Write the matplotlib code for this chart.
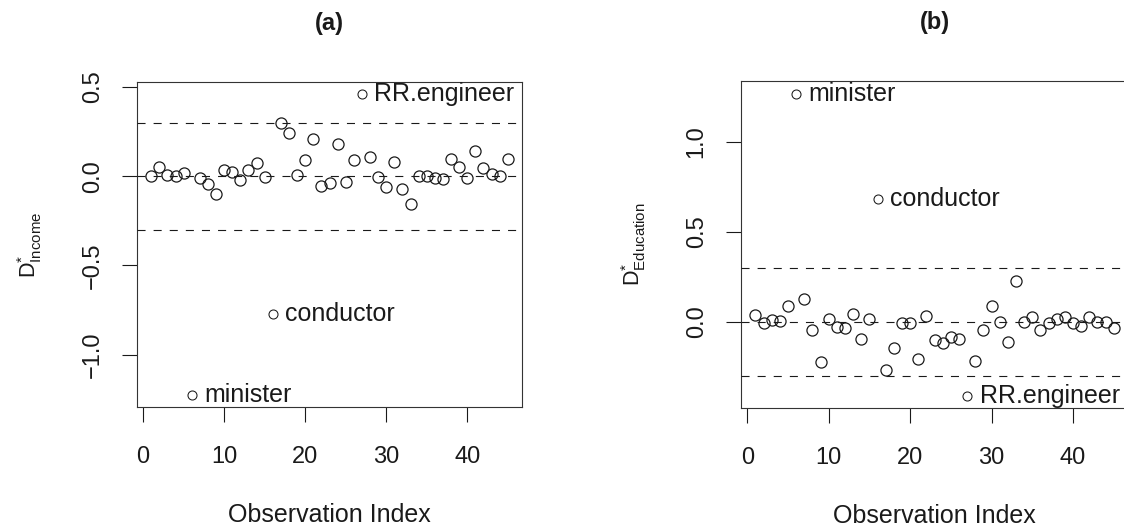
import numpy as np
import matplotlib
matplotlib.use('Agg')
import matplotlib.pyplot as plt

plt.rcParams['font.family'] = ['Liberation Sans', 'DejaVu Sans']
plt.rcParams['mathtext.fontset'] = 'custom'
plt.rcParams['mathtext.rm'] = 'Liberation Sans'
plt.rcParams['mathtext.it'] = 'Liberation Sans'
plt.rcParams['lines.scale_dashes'] = False

# standardized DFBETA values for the Duncan occupations, by observation index
obs = np.arange(1, 46)
d_income = [
    0.000, 0.050, 0.008, 0.000, 0.017, -1.225, -0.011, -0.043, -0.100, 0.032,
    0.022, -0.020, 0.036, 0.075, -0.005, -0.769, 0.300, 0.240, 0.008, 0.088,
    0.210, -0.057, -0.037, 0.180, -0.030, 0.088, 0.460, 0.110, -0.005, -0.061,
    0.082, -0.070, -0.158, 0.000, 0.000, -0.009, -0.015, 0.095, 0.054, -0.009,
    0.140, 0.045, 0.013, 0.000, 0.095,
]
d_education = [
    0.037, -0.009, 0.009, 0.003, 0.087, 1.269, 0.124, -0.046, -0.222, 0.015,
    -0.031, -0.033, 0.045, -0.098, 0.015, 0.680, -0.267, -0.148, -0.009, -0.009,
    -0.207, 0.032, -0.102, -0.117, -0.083, -0.098, -0.411, -0.217, -0.046, 0.087,
    0.000, -0.115, 0.226, 0.000, 0.024, -0.046, -0.006, 0.017, 0.024, -0.009,
    -0.022, 0.024, 0.000, 0.000, -0.033,
]
flagged = {6: 'minister', 16: 'conductor', 27: 'RR.engineer'}
cutoff = 0.3

FS = 17
INK = '#1a1a1a'


def r_range(v):
    # R-style 4% padding around the data range
    lo, hi = min(v), max(v)
    pad = 0.04 * (hi - lo)
    return lo - pad, hi + pad


def dfbeta_panel(ax, vals, yticks, ylab, title):
    vals = np.asarray(vals)
    keep = np.array([i not in flagged for i in obs])
    ax.plot(obs[keep], vals[keep], 'o', ms=8.0, mfc='none', mec=INK, mew=0.9, zorder=2)

    for i, name in flagged.items():
        ax.plot(i, vals[i - 1], 'o', ms=6.5, mfc='none', mec=INK, mew=0.75, zorder=2)
        ax.annotate(name, (i, vals[i - 1]), xytext=(9, 0), textcoords='offset points',
                    ha='left', va='center', fontsize=18, color=INK)

    for h in (-cutoff, 0, cutoff):
        ax.axhline(h, color=INK, lw=0.8, dashes=(5.8, 5.8), zorder=3)

    ax.set_xlim(r_range(obs))
    ax.set_ylim(r_range(vals))
    ax.set_xticks([0, 10, 20, 30, 40])
    ax.set_yticks(yticks)
    ax.set_yticklabels([f'{t:.1f}'.replace('-', '\u2212') for t in yticks],
                       rotation=90, va='center')
    ax.tick_params(direction='out', length=11, width=0.8,
                   labelsize=FS, colors=INK)
    ax.tick_params(axis='x', pad=17)
    ax.tick_params(axis='y', pad=13)
    for s in ax.spines.values():
        s.set_linewidth(0.8)
        s.set_color('#333333')

    ax.set_xlabel('Observation Index', fontsize=18, color=INK)
    ax.xaxis.set_label_coords(0.5, -0.332)
    ax.xaxis.label.set_va('center')
    ax.set_ylabel(ylab, fontsize=15.5, color=INK)
    ax.yaxis.set_label_coords(-0.278, 0.5)
    ax.yaxis.label.set_va('center')

    ax.text(0.5, 1.18, title, transform=ax.transAxes, ha='center', va='center',
            fontsize=17, fontweight='bold', color=INK)


fig = plt.figure(figsize=(11.24, 5.27), dpi=100)
ax_a = fig.add_axes([0.1219, 0.2277, 0.3425, 0.6167])
ax_b = fig.add_axes([0.6593, 0.2262, 0.3443, 0.6192])

dfbeta_panel(ax_a, d_income, [-1.0, -0.5, 0.0, 0.5],
             r'$\mathregular{D^{*}_{Income}}$', '(a)')
dfbeta_panel(ax_b, d_education, [0.0, 0.5, 1.0],
             r'$\mathregular{D^{*}_{Education}}$', '(b)')

fig.savefig('out.png', dpi=100)
